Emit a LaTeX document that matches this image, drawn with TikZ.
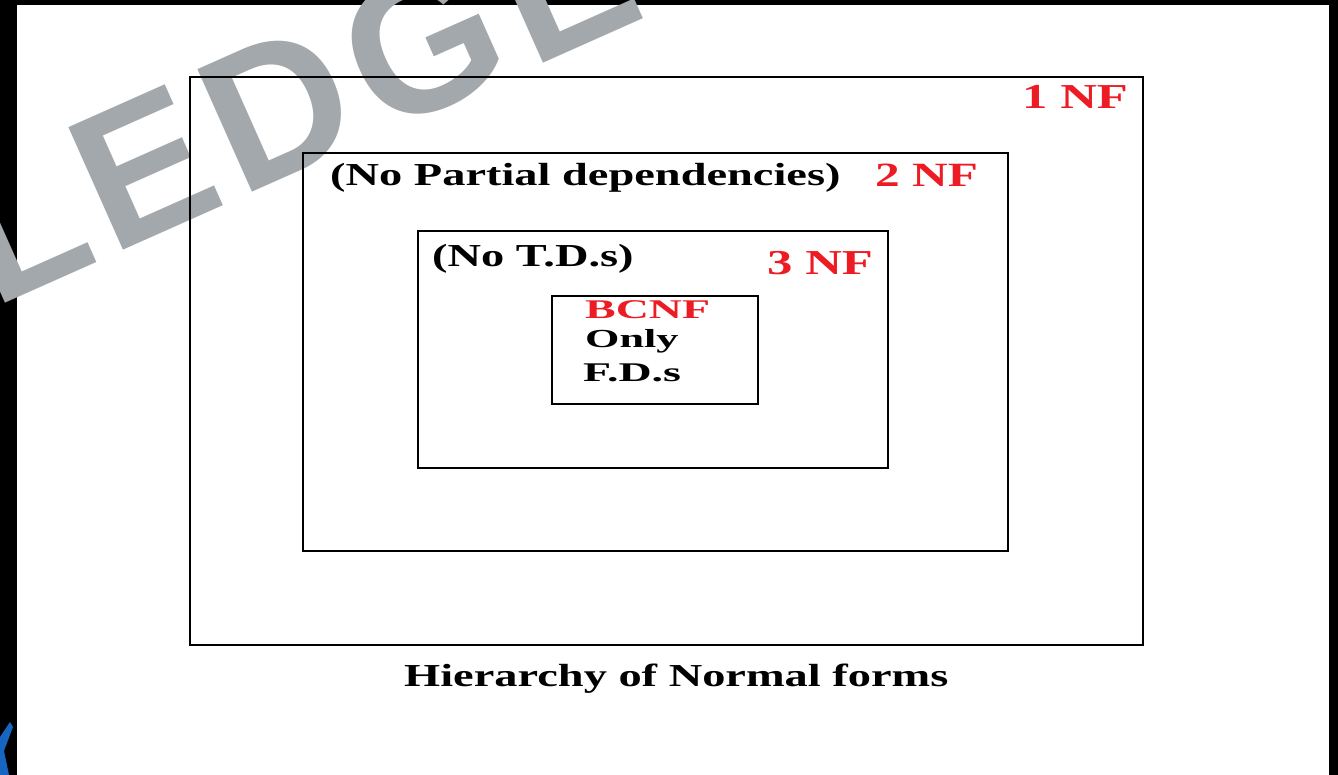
\documentclass[tikz,border=0pt]{standalone}
\usepackage{fontspec}
\setmainfont{Liberation Serif}[FakeStretch=1.45]
\newfontfamily\widefont{Liberation Serif}[FakeStretch=1.7]
\newfontfamily\wmfont{Liberation Sans}
\definecolor{nfred}{RGB}{237,28,36}
\definecolor{wmgray}{RGB}{163,168,172}
\definecolor{logoblue}{RGB}{22,101,192}
\newcommand\setfs[1]{\fontsize{#1}{#1}\selectfont}

\begin{document}
\begin{tikzpicture}[x=1pt,y=1pt,
  box/.style={draw=black, line width=1.7pt, inner sep=0pt, anchor=north west},
  lbl/.style={inner sep=0pt, anchor=base west, font=\bfseries\setfs{32}},
  nf/.style={lbl, text=nfred, font=\bfseries\setfs{35}},
  inner/.style={lbl, font=\widefont\bfseries\setfs{27}},
  wm/.style={inner sep=0pt, anchor=base west, rotate=24, text=wmgray,
             font=\wmfont\bfseries\setfs{195}}]

\useasboundingbox (0,0) rectangle (1338,775);
\fill[white] (0,0) rectangle (1338,775);

% dark frame around the page
\fill[black] (0,770) rectangle (1338,775);
\fill[black] (0,0) rectangle (17,775);
\fill[black] (1329,0) rectangle (1338,775);

% slanted watermark, one letter at a time along a rising baseline
\begin{scope}
  \clip (0,0) rectangle (1338,775);
  \node[wm] (w2) at (-7,466) {L};
  \node[wm] (w3) at (111,519) {E};
  \node[wm] (w4) at (240,577) {D};
  \node[wm] (w5) at (380,639) {G};
  \node[wm] (w6) at (531,706) {E};
\end{scope}

% logo fragment, lower left
\fill[logoblue] (0,38) -- (10,53) -- (13,48) -- (4,24) -- (9,0) -- (0,0) -- cycle;

% nested normal-form boxes
\node[box, minimum width=953pt, minimum height=568pt] (nf1) at (189,699) {};
\node[box, minimum width=705pt, minimum height=398pt] (nf2) at (302,623) {};
\node[box, minimum width=470pt, minimum height=237pt] (nf3) at (417,545) {};
\node[box, minimum width=206pt, minimum height=108pt] (bcnf) at (551,480) {};

% labels
\node[nf] (t1) at (1022,666) {1 NF};
\node[lbl] (p2) at (330,589) {(No Partial dependencies)};
\node[nf, font=\bfseries\setfs{34}] (t2) at (875,588) {2 NF};
\node[lbl] (p3) at (432,508) {(No T.D.s)};
\node[nf] (t3) at (767,500) {3 NF};
\node[inner, text=nfred] (tb) at (585,456) {BCNF};
\node[inner, font=\widefont\bfseries\setfs{26}] (pb1) at (585,427) {Only};
\node[inner] (pb2) at (583,393) {F.D.s};

% caption
\node[lbl] (cap) at (404,88) {Hierarchy of Normal forms};
\end{tikzpicture}
\end{document}
